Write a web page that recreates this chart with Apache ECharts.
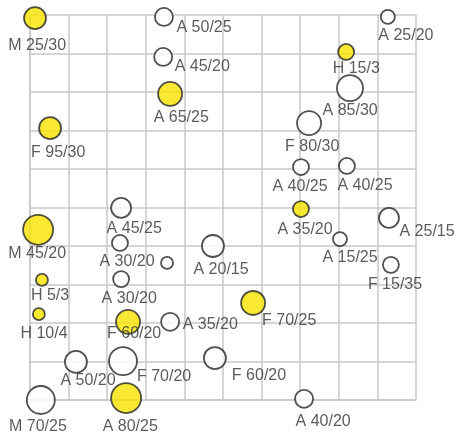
<!DOCTYPE html>
<html>
<head>
<meta charset="utf-8">
<script src="https://cdn.jsdelivr.net/npm/echarts@6/dist/echarts.min.js"></script>
<style>
html,body{margin:0;padding:0;background:#fff;}
#c{width:470px;height:439px;}
</style>
</head>
<body>
<div id="c"></div>
<script>
// Data
var labels = ["M 25/30","A 50/25","A 45/20","A 65/25","F 95/30","A 25/20","H 15/3","A 85/30","F 80/30","A 40/25","A 40/25","M 70/30","A 35/20","A 25/15","A 15/25","F 15/35","F 70/25","A 40/20","F 60/20","M 45/20","A 45/25","A 30/20","","A 20/15","A 30/20","H 5/3","H 10/4","F 60/20","A 35/20","A 50/20","F 70/20","A 80/25","M 70/25"];
var xs = [0.13,3.47,3.45,3.63,0.52,9.27,8.19,8.29,7.23,7.02,8.21,10.03,7.02,9.30,8.03,9.35,5.78,7.10,4.79,0.21,2.36,2.33,3.55,4.74,2.36,0.31,0.23,2.54,3.63,1.19,2.41,2.49,0.28];
var ys = [9.92,9.95,8.91,7.95,7.06,9.95,9.04,8.10,7.19,6.05,6.08,6.23,4.96,4.73,4.18,3.51,2.52,0.03,1.09,4.42,4.99,4.08,3.56,4.00,3.14,3.12,2.23,2.03,2.03,0.99,1.01,0.05,0.00];
var sizes = [22,18,18,24,22,14,16,26,24,16,16,36,16,20,14,16,24,18,22,30,20,16,12,22,16,12,12,24,18,22,28,30,28];
var filled = [1,0,0,1,1,0,1,0,0,0,0,1,1,0,0,0,1,0,0,1,0,0,0,0,0,1,1,1,0,0,0,1,0];

// label placement (style only): offset of label centre from mark centre, px
var labelOffsets = [[3,28],[41,12],[40,11],[12,25],[9,25],[19,20],[11,18],[1,23],[4,24],[0,20],[19,21],[21,27],[5,21],[39,15],[11,19],[5,21],[37,19],[20,24],[45,18],[0,25],[14,22],[8,20],[0,0],[9,24],[9,20],[9,17],[6,20],[7,13],[41,4],[13,20],[42,16],[5,29],[-2,27]];

var data = xs.map(function(x,i){
  var h = sizes[i] / 2;
  return {
    value:[x, ys[i]],
    symbolSize: sizes[i],
    itemStyle:{color: filled[i] ? '#f8e300' : '#ffffff', borderColor:'#262626', borderWidth:1.8},
    label:{show: !!labels[i], formatter: labels[i], position:[h + labelOffsets[i][0], h + labelOffsets[i][1]], align:'center', verticalAlign:'middle'}
  };
});

var chart = echarts.init(document.getElementById('c'), null, {renderer:'canvas'});
chart.setOption({
  animation:false,
  backgroundColor:'#ffffff',
  grid:{left:30, top:15, width:386, height:385, containLabel:false},
  xAxis:{type:'value', min:0, max:10, interval:1, axisLabel:{show:false}, axisTick:{show:false},
    axisLine:{show:true, lineStyle:{color:'#c8c8c8', width:1.5}}, splitLine:{show:true, lineStyle:{color:'#c8c8c8', width:1.5}}},
  yAxis:{type:'value', min:0, max:10, interval:1, axisLabel:{show:false}, axisTick:{show:false},
    axisLine:{show:true, lineStyle:{color:'#c8c8c8', width:1.5}}, splitLine:{show:true, lineStyle:{color:'#c8c8c8', width:1.5}}},
  series:[{
    type:'scatter',
    symbol:'circle',
    data:data,
    label:{show:true, fontFamily:'Liberation Sans, Arial, sans-serif', fontSize:16, color:'#333333', align:'center', verticalAlign:'middle'},
    labelLayout:{hideOverlap:false},
    emphasis:{disabled:true}
  }]
});
</script>
</body>
</html>
